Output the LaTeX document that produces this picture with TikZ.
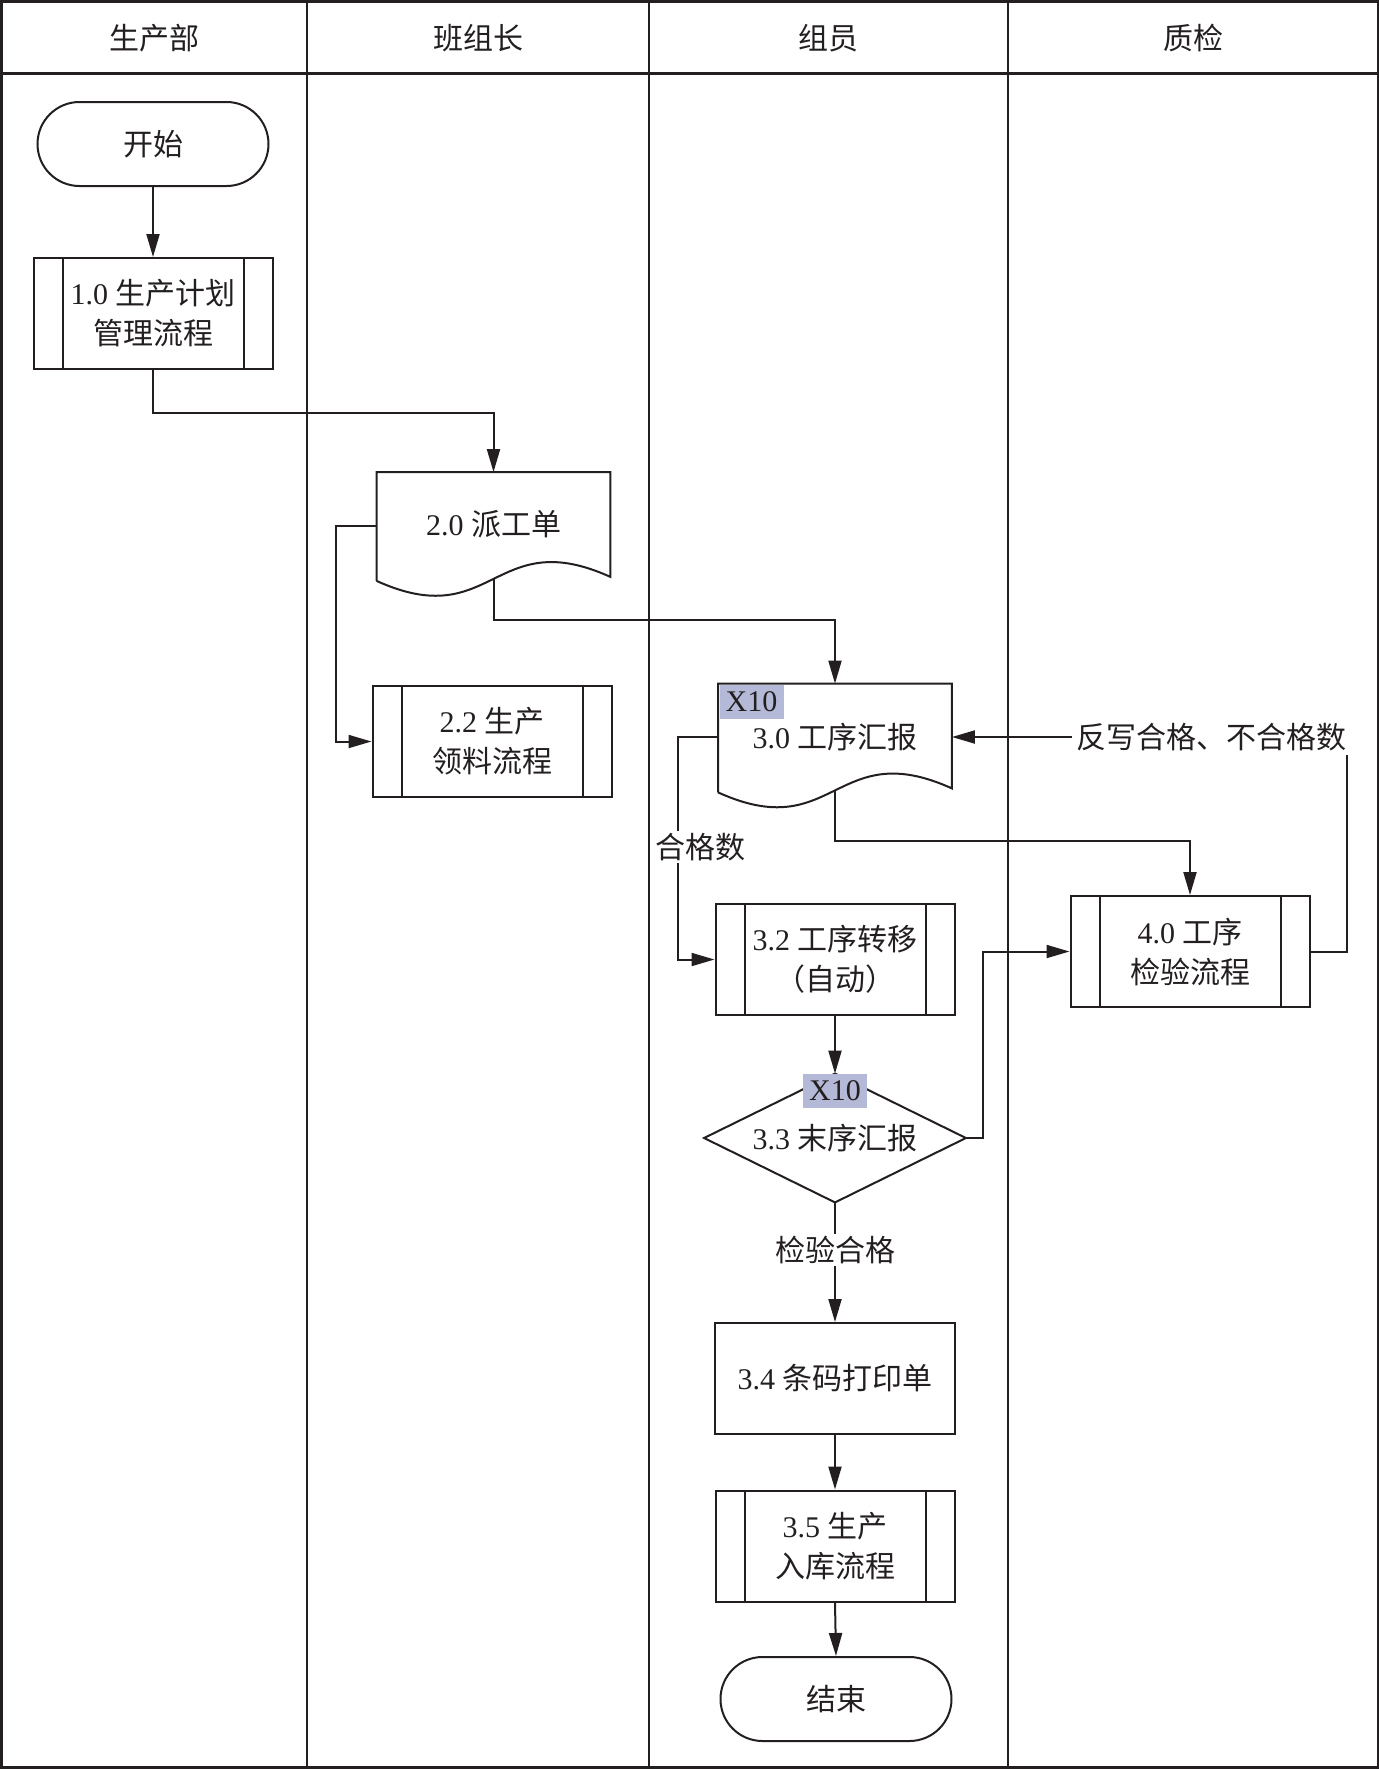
\documentclass[tikz,border=0pt]{standalone}
\usepackage{fontspec}
\setmainfont{Noto Sans CJK SC}
\newfontfamily\lat{Liberation Serif}
\usetikzlibrary{arrows.meta,shapes.misc,calc}
\definecolor{ln}{RGB}{35,31,32}
\definecolor{tagc}{RGB}{180,185,216}
\newcommand\pbars[1]{\draw[draw=ln,line width=1pt] ([xshift=15pt]#1.north west) -- ([xshift=15pt]#1.south west) ([xshift=-15pt]#1.north east) -- ([xshift=-15pt]#1.south east);}
\newcommand\docshape[1]{\draw[draw=ln,line width=1pt,line join=miter] ([yshift=-1pt]#1.south west) -- (#1.north west) -- (#1.north east) -- ([yshift=1pt]#1.south east) .. controls ($(#1.south)+(0,-55)$) and ($(#1.south)+(0,55)$) .. ([yshift=-1pt]#1.south west);}
\begin{document}
\begin{tikzpicture}[x=0.5pt,y=-0.5pt,
  every node/.style={font=\fontsize{15}{20}\selectfont, text=ln},
  wire/.style={draw=ln, line width=1pt},
  arr/.style={wire, -{Triangle[length=11.5pt,width=6.5pt]}},
  term/.style={draw=ln, line width=1pt, rounded rectangle, minimum width=115.5pt, minimum height=42pt, inner sep=0pt},
  proc/.style={draw=ln, line width=1pt, rectangle, minimum width=119.5pt, minimum height=55.5pt, align=center, inner sep=0pt},
  plainbox/.style={draw=ln, line width=1pt, rectangle, minimum width=120pt, minimum height=55.5pt, align=center, inner sep=0pt},
  docnode/.style={rectangle, minimum width=116.5pt, minimum height=53pt, align=center, inner sep=0pt},
  decnode/.style={rectangle, minimum width=130.5pt, minimum height=64pt, inner sep=0pt},
  tag/.style={fill=tagc, inner sep=0pt, minimum width=32pt, minimum height=17pt, font=\lat\fontsize{15}{18}\selectfont},
  lbl/.style={fill=white, inner sep=1pt},
]
\useasboundingbox (0,0) rectangle (1379,1769);
% frame and lanes
\draw[draw=ln, line width=1.5pt] (1,1) rectangle (1378,1767);
\draw[draw=ln, line width=1.5pt] (1,73) -- (1378,73);
\draw[wire] (307,1) -- (307,1767);
\draw[wire] (649,1) -- (649,1767);
\draw[wire] (1008,1) -- (1008,1767);
\node (h1) at (154,38) {生产部};
\node (h2) at (478,38) {班组长};
\node (h3) at (828,38) {组员};
\node (h4) at (1193,38) {质检};

% nodes
\node[term] (start) at (153,144) {开始};
\node[proc] (p10) at (153,313.5) {{\lat 1.0 }生产计划\\管理流程};
\node[docnode] (d20) at (493.5,525.5) {\raisebox{2.5pt}{{\lat 2.0 }派工单}};
\node[proc] (p22) at (492,741.5) {{\lat 2.2 }生产\\领料流程};
\node[docnode] (d30) at (835,737) {{\lat 3.0 }工序汇报};
\node[proc] (p32) at (835,959.5) {{\lat 3.2 }工序转移\\（自动）};
\node[proc] (p40) at (1190,951.5) {{\lat 4.0 }工序\\检验流程};
\node[decnode] (dm) at (835,1138) {{\lat 3.3 }末序汇报};
\node[plainbox] (p34) at (835,1378.5) {{\lat 3.4 }条码打印单};
\node[proc] (p35) at (835,1546) {{\lat 3.5 }生产\\入库流程};
\node[term] (end) at (836,1699) {结束};
\node[inner sep=2pt] (fb) at (1211,737) {反写合格、不合格数};

\pbars{p10}
\pbars{p22}
\pbars{p32}
\pbars{p40}
\pbars{p35}
\docshape{d20}
\docshape{d30}
\draw[wire, line join=miter] (dm.north) -- (dm.east) -- (dm.south) -- (dm.west) -- cycle;

% connectors
\draw[arr] (start.south) -- (p10.north);
\draw[arr] (p10.south) -- ++(0,43) -| (d20.north);
\draw[arr] (d20.west) -- ++(-41,0) |- (p22.west);
\draw[arr] (d20.south) -- ++(0,41) -| (d30.north);
\draw[arr] (d30.west) -- ++(-40,0) |- (p32.west);
\node[lbl] (q1) at (700,847) {合格数};
\draw[arr] (d30.south) -- ++(0,51) -| (p40.north);
\draw[wire] (p40.east) -| ($(fb.south east)+(-3,0)$);
\draw[arr] (fb.west) -- (fb.west -| d30.east);
\draw[arr] (p32.south) -- (dm.north);
\draw[arr] (dm.east) -- ++(17,0) |- (p40.west);
\draw[arr] (dm.south) -- (p34.north) node[lbl, pos=0.4] (q2) {检验合格};
\draw[arr] (p34.south) -- (p35.north);
\draw[arr] (p35.south) -- (end.north);

% tags
\node[tag, anchor=north west] (t1) at ([xshift=0.5pt,yshift=-0.5pt]d30.north west) {X10};
\node[tag, anchor=north] (t2) at (dm.north) {X10};
\end{tikzpicture}
\end{document}
